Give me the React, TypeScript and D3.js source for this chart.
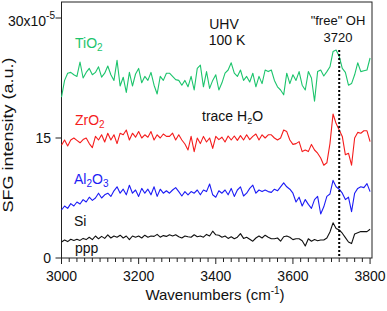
import React from "react";
import * as d3 from "d3";

const WN_START = 3000;
const WN_STEP = 8;

const tio2 = [
  20.1, 22.2, 23.1, 23.2, 22.9, 22.7, 24.5, 22.5, 23.2, 23.7,
  22.9, 23.2, 23.9, 22.6, 23.1, 24.0, 22.9, 22.2, 24.7, 21.5,
  22.6, 20.7, 23.2, 21.5, 23.0, 23.7, 21.9, 22.7, 22.2, 23.2,
  21.6, 20.5, 22.7, 22.2, 23.1, 23.1, 22.7, 22.3, 22.2, 21.6,
  22.2, 21.4, 22.7, 21.0, 23.7, 24.1, 21.4, 23.3, 21.2, 22.2,
  22.9, 21.0, 21.9, 23.1, 23.5, 24.4, 23.1, 22.7, 23.5, 22.2,
  22.7, 22.0, 23.1, 21.4, 22.7, 21.8, 23.5, 23.3, 23.5, 22.2,
  21.4, 21.0, 20.4, 23.1, 21.8, 22.9, 22.2, 23.3, 21.6, 21.0,
  23.3, 22.5, 19.6, 23.3, 23.5, 22.75, 23.3, 23.9, 25.8, 26.0,
  25.2, 23.7, 23.2, 21.6, 21.8, 22.9, 24.4, 23.3, 23.4, 23.5,
  25.0,
];

const zro2 = [
  14.1, 14.75, 14.0, 14.75, 15.0, 14.7, 14.4, 14.8, 15.0, 14.3,
  13.8, 15.2, 14.75, 15.4, 14.5, 15.6, 14.75, 15.4, 14.3, 15.6,
  15.4, 16.0, 14.75, 15.6, 15.1, 15.8, 15.0, 15.4, 15.1, 15.8,
  14.75, 15.4, 15.0, 15.5, 15.2, 15.2, 15.6, 14.75, 15.4, 14.75,
  14.25, 13.5, 15.2, 13.3, 15.0, 14.3, 15.2, 14.5, 15.0, 13.7,
  15.2, 14.8, 15.1, 14.5, 15.25, 14.75, 15.25, 14.7, 15.3, 14.75,
  15.4, 14.8, 15.2, 15.5, 14.75, 15.4, 15.0, 15.4, 15.4, 15.0,
  14.75, 15.0, 16.0, 15.8, 14.75, 14.2, 14.3, 14.55, 13.3, 13.5,
  13.3, 14.2, 13.5, 13.1, 12.5, 11.6, 11.9, 14.3, 18.0, 16.8,
  16.0, 15.2, 12.9, 13.1, 11.6, 15.0, 15.7, 15.6, 15.9, 15.9,
  14.55,
];

const al2o3 = [
  6.0, 6.5, 6.2, 6.8, 6.5, 7.0, 6.75, 7.3, 7.0, 7.6,
  7.2, 7.5, 8.1, 7.5, 7.9, 8.1, 7.7, 8.4, 8.9, 8.1,
  8.6, 7.9, 9.1, 8.1, 8.5, 7.7, 8.7, 8.1, 8.6, 7.9,
  8.9, 7.7, 8.6, 8.1, 8.4, 8.1, 8.5, 8.8, 8.3, 7.75,
  8.3, 7.9, 8.3, 8.1, 8.5, 7.9, 8.5, 8.3, 9.25, 7.9,
  7.6, 8.4, 8.1, 8.5, 7.9, 8.7, 7.7, 8.5, 8.9, 7.75,
  8.1, 8.7, 9.1, 8.1, 8.5, 8.3, 8.5, 8.3, 8.2, 8.6,
  8.4, 8.9, 9.4, 8.9, 8.6, 8.1, 7.0, 7.6, 6.5, 7.3,
  6.7, 6.2, 7.3, 7.7, 5.5, 6.4, 7.7, 8.0, 9.7, 8.9,
  8.6, 8.1, 7.3, 7.6, 5.8, 8.1, 8.7, 8.9, 8.8, 9.3,
  8.3,
];

const si = [
  2.0, 2.25, 2.05, 2.35, 2.2, 2.35, 2.2, 2.45, 2.3, 2.6,
  2.3, 2.75, 2.4, 2.7, 2.45, 2.9, 2.5, 2.75, 2.6, 2.85,
  2.5, 2.75, 2.3, 2.75, 2.6, 2.75, 2.5, 2.85, 2.6, 2.75,
  2.7, 2.95, 2.6, 2.8, 2.7, 2.9, 2.75, 2.9, 2.65, 2.5,
  2.75, 2.65, 2.6, 2.9, 2.65, 2.75, 2.6, 2.95, 2.75, 3.35,
  2.9, 2.85, 2.6, 2.75, 2.45, 2.65, 2.4, 2.6, 3.05, 2.45,
  2.6, 2.35, 2.1, 2.5, 2.75, 2.5, 2.85, 2.6, 2.4, 2.4,
  2.5, 2.1, 2.65, 2.75, 2.6, 2.3, 2.4, 2.4, 2.15, 1.5,
  2.4, 2.1, 2.3, 2.15, 2.25, 2.25, 2.5, 3.25, 4.4, 3.7,
  3.5, 3.1, 2.55, 2.0, 1.8, 3.0, 3.15, 3.3, 3.3, 3.3,
  3.6,
];

const xMajorTicks = [3000, 3200, 3400, 3600, 3800];
const yTicks = [0, 15, 30];
const freeOH = 3720;

const FONT = "'Liberation Sans', Arial, Helvetica, sans-serif";

const series = [
  { name: "TiO2", values: tio2, color: "#1cc46c" },
  { name: "ZrO2", values: zro2, color: "#f51c1c" },
  { name: "Al2O3", values: al2o3, color: "#1c1cf5" },
  { name: "Si", values: si, color: "#111111" },
];

export default function App() {
  const W = 387;
  const H = 311;
  const x = d3.scaleLinear().domain([3000, 3805]).range([61.5, 372]);
  const y = d3.scaleLinear().domain([0, 32]).range([258, 2]);
  const line = d3
    .line<number>()
    .x((_, i) => x(WN_START + i * WN_STEP))
    .y((d) => y(d));
  const minorTicks = d3.range(3000, 3801, 20);
  const axisColor = "#222";

  return (
    <svg
      width={W}
      height={H}
      style={{ position: "absolute", left: 0, top: 0, background: "#fff" }}
      fontFamily={FONT}
    >
      <rect
        x={x(3000)}
        y={y(32)}
        width={x(3805) - x(3000)}
        height={y(0) - y(32)}
        fill="none"
        stroke={axisColor}
        strokeWidth={1}
      />
      {series.map((s) => (
        <path
          key={s.name}
          d={line(s.values) || ""}
          fill="none"
          stroke={s.color}
          strokeWidth={1.1}
          strokeLinejoin="round"
        />
      ))}
      <line
        x1={x(freeOH)}
        x2={x(freeOH)}
        y1={y(26)}
        y2={y(0)}
        stroke="#000"
        strokeWidth={2}
        strokeDasharray="2,2"
      />
      {minorTicks.map((t) => (
        <line
          key={"m" + t}
          x1={x(t)}
          x2={x(t)}
          y1={y(0)}
          y2={y(0) + (t % 200 === 0 ? 6 : 4)}
          stroke={axisColor}
          strokeWidth={1}
        />
      ))}
      {xMajorTicks.map((t) => (
        <text
          key={"xl" + t}
          x={x(t)}
          y={281}
          fontSize={14}
          textAnchor="middle"
          fill="#111"
        >
          {t}
        </text>
      ))}
      {yTicks.map((t) => (
        <line
          key={"yt" + t}
          x1={x(3000) - 6}
          x2={x(3000)}
          y1={y(t)}
          y2={y(t)}
          stroke={axisColor}
          strokeWidth={1}
        />
      ))}
      {yTicks.map((t) =>
        t === 30 ? (
          <text key={"yl" + t} x={55} y={y(t) + 8} fontSize={14} textAnchor="end" fill="#111">
            30x10
            <tspan dy={-7} fontSize={10}>
              -5
            </tspan>
          </text>
        ) : (
          <text key={"yl" + t} x={51} y={y(t) + 5} fontSize={14} textAnchor="end" fill="#111">
            {t}
          </text>
        )
      )}
      <text x={215} y={300} fontSize={15} textAnchor="middle" fill="#111">
        Wavenumbers (cm
        <tspan dy={-6} fontSize={10}>
          -1
        </tspan>
        <tspan dy={6}>)</tspan>
      </text>
      <text
        transform="translate(13,135) rotate(-90)"
        fontSize={15}
        textAnchor="middle"
        fill="#111"
        textLength={155}
        lengthAdjust="spacingAndGlyphs"
      >
        SFG intensity (a.u.)
      </text>
      <text x={75} y={48} fontSize={14} fill={series[0].color}>
        TiO<tspan dy={3} fontSize={10}>2</tspan>
      </text>
      <text x={75} y={125} fontSize={14} fill={series[1].color}>
        ZrO<tspan dy={3} fontSize={10}>2</tspan>
      </text>
      <text x={74} y={184} fontSize={14} fill={series[2].color}>
        Al<tspan dy={3} fontSize={10}>2</tspan>
        <tspan dy={-3}>O</tspan>
        <tspan dy={3} fontSize={10}>3</tspan>
      </text>
      <text x={74} y={226} fontSize={14} fill="#111">
        Si
      </text>
      <text x={75} y={253} fontSize={14} fill="#111">
        ppp
      </text>
      <text x={224} y={29} fontSize={14} textAnchor="middle" fill="#111">
        UHV
      </text>
      <text x={227} y={45} fontSize={14} textAnchor="middle" fill="#111">
        100 K
      </text>
      <text x={202} y={121} fontSize={14} fill="#111">
        trace H<tspan dy={3} fontSize={9}>2</tspan>
        <tspan dy={-3}>O</tspan>
      </text>
      <text x={338} y={25} fontSize={13} textAnchor="middle" fill="#111">
        "free" OH
      </text>
      <text x={338} y={42} fontSize={13} textAnchor="middle" fill="#111">
        3720
      </text>
    </svg>
  );
}
